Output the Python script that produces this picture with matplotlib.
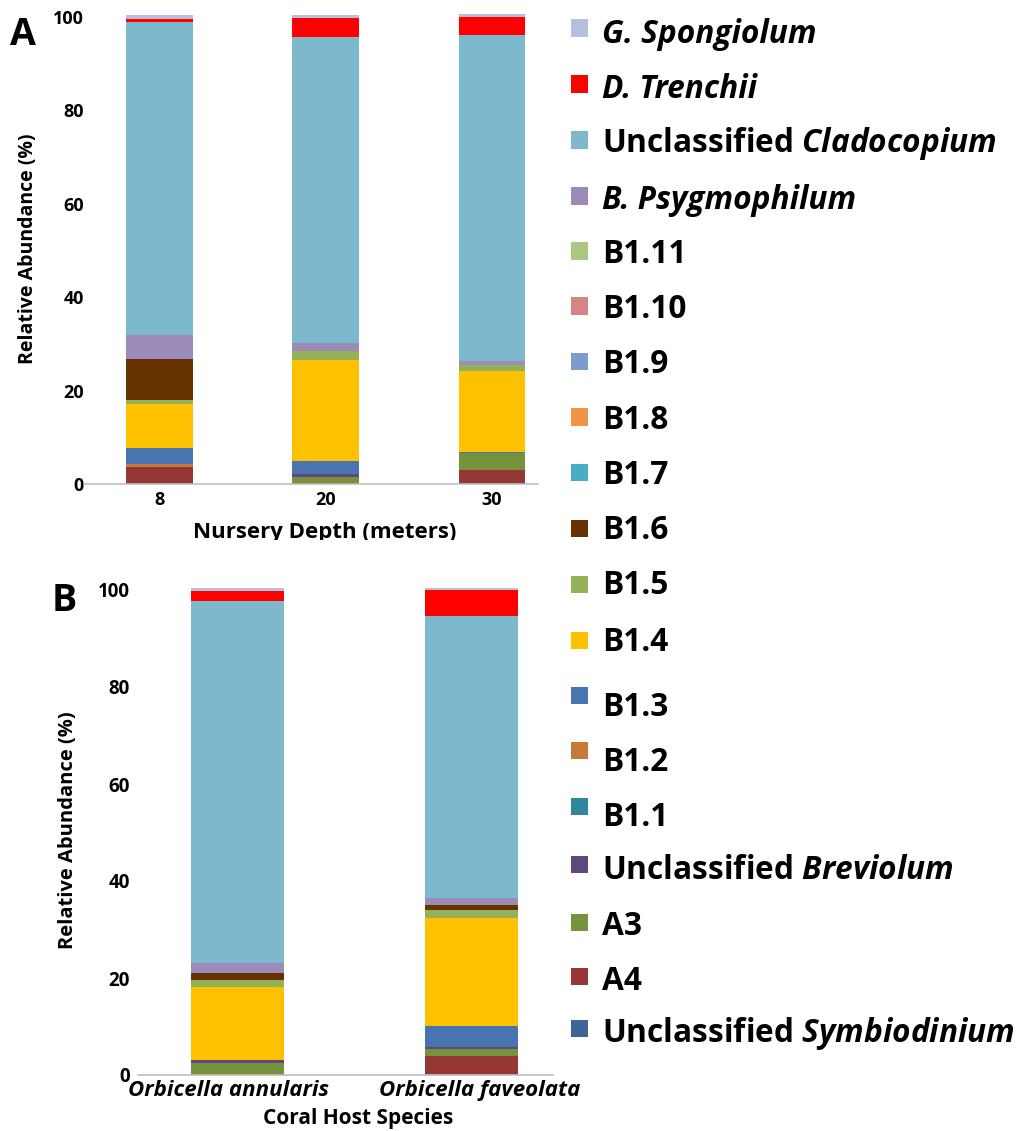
import matplotlib
matplotlib.use("Agg")
import matplotlib.pyplot as plt
from matplotlib.patches import Rectangle
from matplotlib.transforms import Bbox, TransformedBbox, ScaledTranslation
import numpy as np

plt.rcParams['font.family'] = ['Open Sans', 'DejaVu Sans']
plt.rcParams['font.weight'] = 'bold'
plt.rcParams['mathtext.fontset'] = 'custom'
plt.rcParams['mathtext.rm'] = 'Open Sans:bold'
plt.rcParams['mathtext.it'] = 'Open Sans:italic:bold'
plt.rcParams['mathtext.bf'] = 'Open Sans:bold'

# Symbiont taxa, stacked from the bottom of each bar upwards
taxa = ["Unclassified Symbiodinium", "A4", "A3", "Unclassified Breviolum",
        "B1.1", "B1.2", "B1.3", "B1.4", "B1.5", "B1.6", "B1.7", "B1.8",
        "B1.9", "B1.10", "B1.11", "B. Psygmophilum", "Unclassified Cladocopium",
        "D. Trenchii", "G. Spongiolum"]
taxa_labels = [r"Unclassified $\mathit{Symbiodinium}$", "A4", "A3",
               r"Unclassified $\mathit{Breviolum}$",
               "B1.1", "B1.2", "B1.3", "B1.4", "B1.5", "B1.6", "B1.7", "B1.8",
               "B1.9", "B1.10", "B1.11", "B. Psygmophilum",
               r"Unclassified $\mathit{Cladocopium}$",
               "D. Trenchii", "G. Spongiolum"]
italic_names = {"B. Psygmophilum", "D. Trenchii", "G. Spongiolum"}
colors = ["#3E6597", "#953735", "#76923C", "#5F497A",
          "#31859C", "#C57A3A", "#4874B2", "#FFC000", "#93B158", "#663300",
          "#4BACC6", "#F09448", "#7D9BCB", "#D58584", "#ABC882", "#9C8BB8",
          "#7DB9CD", "#FF0000", "#B3C1DF"]

# Panel A: nursery depth (m)
depths = ["8", "20", "30"]
abund_depth = {
    "Unclassified Symbiodinium": [0.0, 0.0, 0.0],
    "A4": [3.6, 0.35, 3.1],
    "A3": [0.0, 1.2, 3.6],
    "Unclassified Breviolum": [0.0, 0.6, 0.0],
    "B1.1": [0.0, 0.0, 0.0],
    "B1.2": [0.7, 0.0, 0.0],
    "B1.3": [3.4, 2.9, 0.3],
    "B1.4": [9.4, 21.5, 17.2],
    "B1.5": [0.9, 2.0, 1.4],
    "B1.6": [8.8, 0.0, 0.0],
    "B1.7": [0.0, 0.0, 0.0],
    "B1.8": [0.0, 0.0, 0.0],
    "B1.9": [0.0, 0.0, 0.0],
    "B1.10": [0.0, 0.0, 0.0],
    "B1.11": [0.0, 0.0, 0.0],
    "B. Psygmophilum": [5.2, 1.6, 0.7],
    "Unclassified Cladocopium": [67.0, 65.6, 69.8],
    "D. Trenchii": [0.6, 4.1, 3.8],
    "G. Spongiolum": [0.8, 0.6, 0.7],
}

# Panel B: coral host species
hosts = ["Orbicella annularis", "Orbicella faveolata"]
abund_host = {
    "Unclassified Symbiodinium": [0.0, 0.0],
    "A4": [0.0, 4.0],
    "A3": [2.5, 1.4],
    "Unclassified Breviolum": [0.55, 0.3],
    "B1.1": [0.0, 0.0],
    "B1.2": [0.0, 0.0],
    "B1.3": [0.0, 4.5],
    "B1.4": [15.1, 22.1],
    "B1.5": [1.4, 1.7],
    "B1.6": [1.4, 1.0],
    "B1.7": [0.0, 0.0],
    "B1.8": [0.0, 0.0],
    "B1.9": [0.0, 0.0],
    "B1.10": [0.0, 0.0],
    "B1.11": [0.0, 0.0],
    "B. Psygmophilum": [2.2, 1.5],
    "Unclassified Cladocopium": [74.6, 58.1],
    "D. Trenchii": [2.1, 5.3],
    "G. Spongiolum": [0.55, 0.6],
}
yticks = [0, 20, 40, 60, 80, 100]

W, H = 1024, 1131
fig = plt.figure(figsize=(W / 100, H / 100), dpi=100)


def fx(px):
    return px / W


def fy(py):
    return 1 - py / H


def stacked(ax, cats, table, width):
    x = np.arange(len(cats))
    base = np.zeros(len(cats))
    for name, col in zip(taxa, colors):
        vals = np.array(table[name], dtype=float)
        ax.bar(x, vals, width, bottom=base, color=col, linewidth=0, clip_on=False)
        base += vals
    ax.set_xticks(x)
    ax.set_yticks(yticks)
    ax.set_ylim(0, 100)
    for s in ("top", "right", "left"):
        ax.spines[s].set_visible(False)
    ax.spines["bottom"].set_color("#BFBFBF")
    ax.spines["bottom"].set_linewidth(1.2)
    ax.tick_params(length=0)


# Panel A
axA = fig.add_axes([fx(84), fy(484.3), fx(538 - 84), 467.3 / H])
stacked(axA, depths, abund_depth, 0.4)
axA.set_xlim(-0.454, 2.277)
axA.set_xticklabels(depths, fontsize=13, fontweight="bold")
axA.tick_params(axis="x", pad=5)
axA.tick_params(axis="y", pad=0, labelsize=13)

# Panel B
axB = fig.add_axes([fx(138), fy(1075), fx(553 - 138), 485 / H])
stacked(axB, hosts, abund_host, 0.4)
axB.set_xlim(-0.425, 1.348)
axB.set_xticklabels(hosts, fontsize=16, fontweight="bold", style="italic")
axB.tick_params(axis="x", pad=3.5)
axB.tick_params(axis="y", pad=5.8, labelsize=13.5)
# nudge the host names slightly apart
for lab, dx in zip(axB.get_xticklabels(), (-9, 8)):
    lab.set_transform(lab.get_transform() + ScaledTranslation(dx / 100, 0, fig.dpi_scale_trans))
for lab in axA.get_yticklabels() + axB.get_yticklabels():
    lab.set_fontweight("bold")

# Axis titles
fig.text(fx(28), fy(249), "Relative Abundance (%)", rotation=90, fontsize=14,
         fontweight="bold", ha="center", va="center")
fig.text(fx(68), fy(830), "Relative Abundance (%)", rotation=90, fontsize=14.5,
         fontweight="bold", ha="center", va="center")
xlab = fig.text(fx(325), fy(538), "Nursery Depth (meters)", fontsize=16,
                fontweight="bold", ha="center", va="baseline")
xlab.set_clip_box(TransformedBbox(Bbox([[0, fy(540)], [1, 1]]), fig.transFigure))
xlab.set_clip_on(True)
fig.text(fx(358), fy(1124), "Coral Host Species", fontsize=15,
         fontweight="bold", ha="center", va="baseline")

# Panel letters
fig.text(fx(10), fy(45), "A", fontsize=27, fontweight="bold", va="baseline")
fig.text(fx(52), fy(611), "B", fontsize=27, fontweight="bold", va="baseline")

# Legend, listed from the top of the stack downwards
text_y = [32, 87, 141, 197.5, 251.5, 307, 362, 418, 472.5, 527.5,
          583, 640, 705, 760, 815, 868, 924, 979, 1031]
square_y = [28, 84, 140, 196, 251, 306, 361.5, 417, 472.5, 528,
            584.5, 640, 695, 750, 806, 864, 922, 976, 1028]
sq = 17
for i, idx in enumerate(range(len(taxa) - 1, -1, -1)):
    fig.patches.append(Rectangle((fx(571), fy(square_y[i] + sq / 2)), fx(sq), sq / H,
                                 transform=fig.transFigure, facecolor=colors[idx],
                                 edgecolor="none"))
    style = "italic" if taxa[idx] in italic_names else "normal"
    fig.text(fx(602), fy(text_y[i] + 11.3), taxa_labels[idx], fontsize=22.8,
             fontweight="bold", style=style, va="baseline", ha="left")

fig.savefig("out.png", dpi=100)
